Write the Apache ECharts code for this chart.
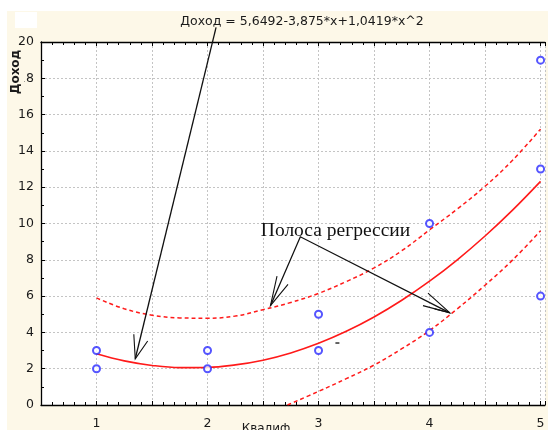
<!DOCTYPE html>
<html>
<head>
<meta charset="utf-8">
<script src="https://cdn.jsdelivr.net/npm/echarts@6/dist/echarts.min.js"></script>
<style>
html,body{margin:0;padding:0;background:#fff;}
#c{width:548px;height:430px;}
</style>
</head>
<body>
<div id="c"></div>
<script>
// ---- data ----
const titleText = 'Доход = 5,6492-3,875*x+1,0419*x^2';
const xName = 'Квалиф';
const yName = 'Доход';
const bandLabel = 'Полоса регрессии';
const xTickLabels = ['1', '2', '3', '4', '5'];
const yTickLabels = ['0', '2', '4', '6', '8', '10', '12', '14', '16', '18', '20'];

const pointsX = [1, 1, 2, 2, 3, 3, 4, 4, 5, 5, 5];
const pointsY = [3, 2, 3, 2, 5, 3, 10, 4, 19, 13, 6];

const curveX = [1, 1.25, 1.5, 1.75, 2, 2.25, 2.5, 2.75, 3, 3.25, 3.5, 3.75, 4, 4.25, 4.5, 4.75, 5];
const fitY   = [2.82, 2.43, 2.18, 2.06, 2.07, 2.21, 2.47, 2.87, 3.40, 4.06, 4.85, 5.77, 6.82, 8.00, 9.31, 10.75, 12.32];
const upperY = [5.9, 5.3, 4.95, 4.8, 4.78, 4.9, 5.25, 5.65, 6.15, 6.8, 7.55, 8.5, 9.65, 10.8, 12.05, 13.5, 15.2];
const lowerX = [2.72, 3, 3.25, 3.5, 3.75, 4, 4.25, 4.5, 4.75, 5];
const lowerY = [0, 0.75, 1.45, 2.2, 3.1, 4.1, 5.3, 6.6, 8.0, 9.6];

// annotation geometry in data units
const arrowTitleLine = [[2.077, 20.81], [1.349, 2.547]];
const arrowTitleHead = [[1.336, 3.902], [1.349, 2.547], [1.461, 3.523]];
const bandLines = [[2.567, 5.474], [2.836, 9.268], [4.183, 5.079]];
const bandHeadLeft = [[2.626, 7.100], [2.567, 5.474], [2.725, 6.650]];
const bandHeadRight = [[3.986, 6.163], [4.183, 5.079], [3.941, 5.474]];
const bandHeadRight2 = [[4.046, 5.295], [4.183, 5.079]];
const smallDash = [[3.152, 3.415], [3.188, 3.415]];
const bandLabelPos = [2.48, 9.04];

// ---- chart ----
const zip = (xs, ys) => xs.map((x, i) => [x, ys[i]]);
const RED = '#ff1a1a';
const BLUE = '#2a2aff';
const CREAM = '#fdf8e8';
const SANS = '"DejaVu Sans", Verdana, sans-serif';
const axisFont = {fontFamily: SANS, fontSize: 12.5, color: '#1a1a1a'};

const chart = echarts.init(document.getElementById('c'), null, {renderer: 'canvas'});

const xBase = {
  type: 'value', min: 0.5, max: 5.04, interval: 0.5,
  axisLine: {show: true, onZero: false, lineStyle: {color: '#000', width: 1.3}},
  axisTick: {show: true, inside: true, length: 4, lineStyle: {color: '#000'}},
  minorTick: {show: true, splitNumber: 5, length: 3, lineStyle: {color: '#000'}},
  splitLine: {show: false}
};

chart.setOption({
  backgroundColor: '#fff',
  animation: false,
  grid: {left: 41, top: 42, width: 507, height: 369, show: true, backgroundColor: '#fff', borderWidth: 0},
  xAxis: [
    Object.assign({}, xBase, {
      position: 'bottom',
      splitLine: {show: true, lineStyle: {color: '#c4c4c4', type: [2, 2], width: 1}},
      axisLabel: Object.assign({
        margin: 12,
        formatter: v => {
          const i = xTickLabels.indexOf(String(v));
          return i >= 0 ? xTickLabels[i] : '';
        }
      }, axisFont)
    }),
    Object.assign({}, xBase, {position: 'top', axisLabel: {show: false}})
  ],
  yAxis: {
    type: 'value', min: 0, max: 20, interval: 2,
    axisLine: {show: true, onZero: false, lineStyle: {color: '#000', width: 1.3}},
    axisTick: {show: true, inside: true, length: 4, lineStyle: {color: '#000'}},
    minorTick: {show: true, splitNumber: 2, length: 3, lineStyle: {color: '#000'}},
    splitLine: {show: true, lineStyle: {color: '#c4c4c4', type: [2, 2], width: 1}},
    axisLabel: Object.assign({
      margin: 7,
      formatter: v => {
        const i = yTickLabels.indexOf(String(v));
        return i >= 0 ? yTickLabels[i] : '';
      }
    }, axisFont)
  },
  series: [
    {
      type: 'line', data: zip(curveX, upperY), smooth: 0.4, showSymbol: false,
      lineStyle: {color: RED, width: 1.5, type: [4, 3]}, z: 3
    },
    {
      type: 'line', data: zip(lowerX, lowerY), smooth: 0.4, showSymbol: false,
      lineStyle: {color: RED, width: 1.5, type: [4, 3]}, z: 3
    },
    {
      type: 'line', data: zip(curveX, fitY), smooth: 0.4, showSymbol: false,
      lineStyle: {color: RED, width: 1.6}, z: 3
    },
    {
      type: 'scatter', data: zip(pointsX, pointsY), symbol: 'emptyCircle', symbolSize: 7,
      itemStyle: {color: BLUE, borderColor: BLUE, borderWidth: 1.6}, z: 4
    }
  ]
});

const toPx = p => chart.convertToPixel({xAxisIndex: 0, yAxisIndex: 0}, p);
const poly = (pts, w) => ({
  type: 'polyline', z: 50,
  shape: {points: pts.map(toPx)},
  style: {stroke: '#111', lineWidth: w || 1.2, fill: null}
});
const labelPx = toPx(bandLabelPos);

chart.setOption({
  graphic: [
    // cream frame background
    {type: 'rect', z: -10, silent: true, shape: {x: 7, y: 11, width: 541, height: 419}, style: {fill: CREAM}},
    {type: 'rect', z: -9, silent: true, shape: {x: 15, y: 12, width: 22, height: 16}, style: {fill: '#fff'}},
    // title
    {type: 'text', z: 60, x: 302, y: 22, style: {
      text: titleText, align: 'center', verticalAlign: 'middle',
      font: '12.5px ' + SANS, fill: '#1a1a1a'}},
    // y axis name
    {type: 'text', z: 60, x: 16, y: 72, rotation: Math.PI / 2, style: {
      text: yName, align: 'center', verticalAlign: 'middle',
      font: 'bold 12px ' + SANS, fill: '#1a1a1a',
      backgroundColor: CREAM, padding: [1, 2, 4, 2]}},
    // x axis name
    {type: 'text', z: 60, x: 266, y: 423, style: {
      text: xName, align: 'center', verticalAlign: 'top',
      font: '12px ' + SANS, fill: '#1a1a1a'}},
    // annotations
    poly(arrowTitleLine, 1.3),
    poly(arrowTitleHead, 1.1),
    poly(bandLines, 1.3),
    poly(bandHeadLeft, 1.1),
    poly(bandHeadRight, 1.1),
    poly(bandHeadRight2, 1.1),
    poly(smallDash, 1.3),
    {type: 'text', z: 60, x: labelPx[0], y: labelPx[1], style: {
      text: bandLabel, align: 'left', verticalAlign: 'bottom',
      font: '19.5px "Liberation Serif", "Times New Roman", serif', fill: '#111'}}
  ]
});
</script>
</body>
</html>
